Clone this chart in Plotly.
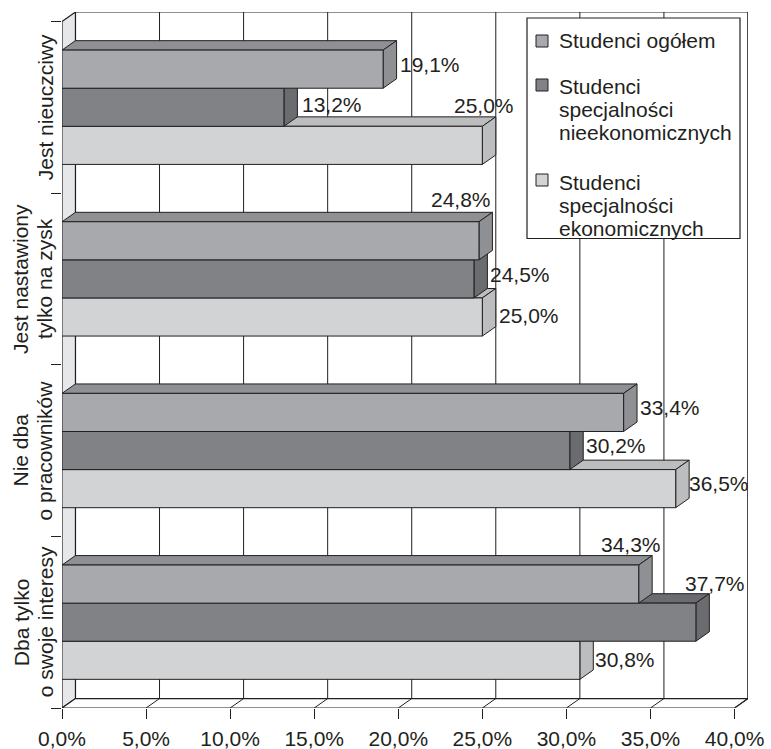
import plotly.graph_objects as go

# --- data -------------------------------------------------------------
categories = [
    "Jest nieuczciwy",
    "Jest nastawiony<br>tylko na zysk",
    "Nie dba<br>o pracowników",
    "Dba tylko<br>o swoje interesy",
]
series_names = [
    "Studenci ogółem",
    "Studenci<br>specjalności<br>nieekonomicznych",
    "Studenci<br>specjalności<br>ekonomicznych",
]
ogolem = [19.1, 24.8, 33.4, 34.3]
nieekonomiczni = [13.2, 24.5, 30.2, 37.7]
ekonomiczni = [25.0, 25.0, 36.5, 30.8]
x_ticks = [0, 5, 10, 15, 20, 25, 30, 35, 40]

series_values = [ogolem, nieekonomiczni, ekonomiczni]

# --- style ------------------------------------------------------------
FONT = "Liberation Sans, Arial, sans-serif"
INK = "#231f20"
FRONT = ["#a7a9ac", "#808285", "#d1d3d4"]
SHADE = ["#8e9093", "#6b6c6f", "#bbbdbf"]
WALL = "#e6e7e8"

W, H = 771, 749
ML, MR, MT, MB = 62, 23, 12, 41
PW, PH = W - ML - MR, H - MT - MB

DX = 0.8      # depth of the 3-D effect along the value axis (% units)
DY = 0.055    # depth along the category axis (category units)
BAR = 0.222   # bar thickness (category units)
X_MAX = 40

def fmt(v):
    return f"{v:.1f}".replace(".", ",") + "%"

def px_x(p):
    return (p - ML) / PW

def px_y(p):
    return (H - MB - p) / PH

fig = go.Figure()

# --- 3-D bars: faces built from the values, lowest bars drawn first ---
def bar_faces(values, offset):
    top_x, top_y, side_x, side_y, front_x, front_y = [], [], [], [], [], []
    for i, v in enumerate(values):
        yc = i + offset
        yt, yb = yc - BAR / 2, yc + BAR / 2
        front_x += [0, v, v, 0, 0, None]
        front_y += [yt, yt, yb, yb, yt, None]
        top_x += [0, DX, v + DX, v, 0, None]
        top_y += [yt, yt - DY, yt - DY, yt, yt, None]
        side_x += [v, v + DX, v + DX, v, v, None]
        side_y += [yt, yt - DY, yb - DY, yb, yt, None]
    return (top_x, top_y), (side_x, side_y), (front_x, front_y)

offsets = [-BAR, 0.0, BAR]
for s in [2, 1, 0]:
    top, side, front = bar_faces(series_values[s], offsets[s])
    for (xs, ys), col in [(top, SHADE[s]), (side, SHADE[s]), (front, FRONT[s])]:
        fig.add_trace(go.Scatter(
            x=xs, y=ys, mode="lines", fill="toself", fillcolor=col,
            line=dict(color=INK, width=1), hoverinfo="skip",
            showlegend=False,
        ))

# --- walls, floor and gridlines ---------------------------------------
shapes = []
y_top, y_bot = -0.5, len(categories) - 0.5
# back wall
shapes.append(dict(type="rect", xref="x", yref="y", x0=DX, x1=X_MAX + DX,
                   y0=y_top - DY, y1=y_bot - DY, fillcolor="white",
                   line=dict(color=INK, width=1.2), layer="below"))
# left side wall
shapes.append(dict(type="path", xref="x", yref="y",
                   path=f"M0,{y_top} L{DX},{y_top - DY} L{DX},{y_bot - DY} L0,{y_bot} Z",
                   fillcolor=WALL, line=dict(color=INK, width=1.2), layer="below"))
# floor
shapes.append(dict(type="path", xref="x", yref="y",
                   path=f"M0,{y_bot} L{DX},{y_bot - DY} L{X_MAX + DX},{y_bot - DY} L{X_MAX},{y_bot} Z",
                   fillcolor="white", line=dict(color=INK, width=1.2), layer="below"))
for t in x_ticks[1:]:
    shapes.append(dict(type="line", xref="x", yref="y", x0=t + DX, x1=t + DX,
                       y0=y_top - DY, y1=y_bot - DY,
                       line=dict(color=INK, width=1), layer="below"))
    shapes.append(dict(type="line", xref="x", yref="y", x0=t, x1=t + DX,
                       y0=y_bot, y1=y_bot - DY,
                       line=dict(color=INK, width=1), layer="below"))

# --- legend box ------------------------------------------------------
shapes.append(dict(type="rect", xref="paper", yref="paper",
                   x0=px_x(527), x1=px_x(740), y0=px_y(18), y1=px_y(238.5),
                   fillcolor="white", line=dict(color=INK, width=1.2), layer="above"))

annotations = []
legend_first_line = [40, 86, 182.5]
legend_swatch = [41, 85, 180]
LINE = 23.2
for s, name in enumerate(series_names):
    yc = legend_swatch[s]
    shapes.append(dict(type="rect", xref="paper", yref="paper",
                       x0=px_x(536), x1=px_x(548), y0=px_y(yc + 6), y1=px_y(yc - 6),
                       fillcolor=FRONT[s], line=dict(color=INK, width=1), layer="above"))
    for j, line_text in enumerate(name.split("<br>")):
        annotations.append(dict(
            xref="paper", yref="paper", x=px_x(557), y=px_y(legend_first_line[s] + j * LINE),
            text=line_text, showarrow=False, xanchor="left", yanchor="middle",
            font=dict(family=FONT, size=21, color=INK),
        ))

# --- category labels, rotated ---------------------------------------
for i, cat in enumerate(categories):
    lines = cat.split("<br>")
    n = len(lines)
    for j, line_text in enumerate(lines):
        annotations.append(dict(
            xref="paper", yref="y", x=0, y=i, text=line_text, showarrow=False,
            textangle=-90, xanchor="center", yanchor="middle",
            xshift=-17 - (n - 1 - j) * 24,
            font=dict(family=FONT, size=21, color=INK),
        ))

# --- value labels ------------------------------------------------------
label_nudges = {
    (2, 0): ("center", -12, 35),
    (0, 1): ("center", -31, 37),
    (0, 3): ("center", -21, 35),
    (1, 3): ("center", 6, 34),
    (1, 0): ("left", 3, -2),
    (2, 1): ("left", 1, -3),
    (2, 2): ("left", -2, 0),
    (2, 3): ("left", 0, -4),
}
for s, vals in enumerate(series_values):
    for i, v in enumerate(vals):
        anchor, xs, ys = label_nudges.get((s, i), ("left", 1, 0))
        annotations.append(dict(
            xref="x", yref="y", x=v + DX, y=i + offsets[s] - DY / 2,
            text=fmt(v), showarrow=False, xanchor=anchor, yanchor="middle",
            xshift=xs, yshift=ys,
            font=dict(family=FONT, size=21, color=INK),
        ))

fig.update_layout(
    width=W, height=H,
    margin=dict(l=ML, r=MR, t=MT, b=MB, pad=0, autoexpand=False),
    paper_bgcolor="white", plot_bgcolor="white",
    showlegend=False,
    shapes=shapes, annotations=annotations,
    xaxis=dict(
        range=[0, X_MAX + DX], showgrid=False, zeroline=False, showline=False,
        automargin=False,
        tickvals=x_ticks, ticktext=[fmt(t) for t in x_ticks],
        ticks="outside", ticklen=10, tickwidth=1.2, tickcolor=INK,
        ticklabelstandoff=2,
        tickfont=dict(family=FONT, size=21, color=INK),
        fixedrange=True,
    ),
    yaxis=dict(
        range=[y_bot, y_top - DY], showgrid=False, zeroline=False, showline=False,
        automargin=False,
        tickvals=[k - 0.5 for k in range(len(categories) + 1)],
        showticklabels=False,
        ticks="outside", ticklen=10, tickwidth=1.2, tickcolor=INK,
        fixedrange=True,
    ),
)

fig.write_html("out.html")
